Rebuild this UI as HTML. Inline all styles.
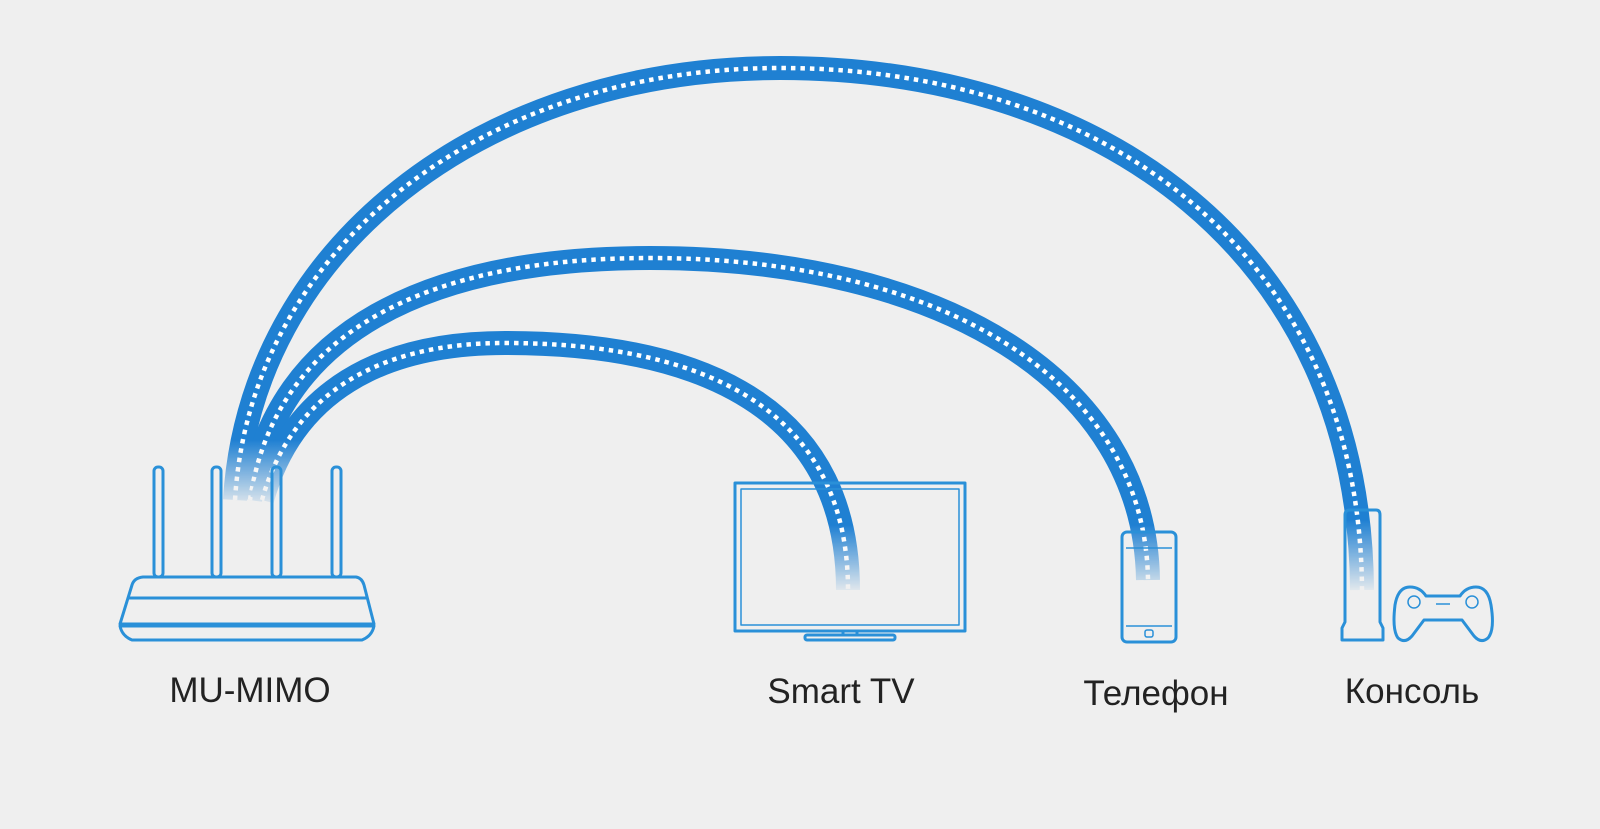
<!DOCTYPE html>
<html><head><meta charset="utf-8"><style>
html,body{margin:0;padding:0;background:#efefef;}
svg{display:block}
text{font-family:"Liberation Sans","DejaVu Sans",sans-serif;font-size:35px;fill:#222;}
</style></head><body>
<svg width="1600" height="829" viewBox="0 0 1600 829">
<defs>
<linearGradient id="fu" x1="0" y1="0" x2="0" y2="1"><stop offset="0" stop-color="#fff"/><stop offset="1" stop-color="#000"/></linearGradient>
<mask id="m" maskUnits="userSpaceOnUse" x="0" y="0" width="1600" height="829">
<rect x="0" y="0" width="1600" height="829" fill="#fff"/>
<rect x="200" y="440" width="130" height="70" fill="url(#fu)"/>
<rect x="810" y="525" width="80" height="70" fill="url(#fu)"/>
<rect x="1110" y="525" width="80" height="70" fill="url(#fu)"/>
<rect x="1335" y="520" width="60" height="75" fill="url(#fu)"/>
</mask>
</defs>
<g mask="url(#m)" fill="none">
<path d="M235,500 C250,250 480,68 780,68 C1100,68 1360,250 1362,590" stroke="#1f80d2" stroke-width="24"/>
<path d="M235,500 C250,250 480,68 780,68 C1100,68 1360,250 1362,590" stroke="#fff" stroke-width="4.5" stroke-dasharray="4.5 5"/>
<path d="M250,500 C275,330 430,258 650,258 C940,258 1145,380 1148,580" stroke="#1f80d2" stroke-width="24"/>
<path d="M250,500 C275,330 430,258 650,258 C940,258 1145,380 1148,580" stroke="#fff" stroke-width="4.5" stroke-dasharray="4.5 5"/>
<path d="M262,500 C292,392 380,343 505,343 C720,343 848,420 848,590" stroke="#1f80d2" stroke-width="24"/>
<path d="M262,500 C292,392 380,343 505,343 C720,343 848,420 848,590" stroke="#fff" stroke-width="4.5" stroke-dasharray="4.5 5"/>
</g>
<g fill="none" stroke="#2a90d8" stroke-width="3" stroke-linejoin="round">
<rect x="154" y="467" width="9" height="110" rx="4"/>
<rect x="212" y="467" width="9" height="110" rx="4"/>
<rect x="272" y="467" width="9" height="110" rx="4"/>
<rect x="332" y="467" width="9" height="110" rx="4"/>
<path d="M143,577 L356,577 Q362,578 364,585 L374,624 L120,624 L132,585 Q134,578 143,577 Z" fill="#efefef"/>
<line x1="128" y1="598" x2="367" y2="598"/>
<path d="M120,626 L374,626 Q372,636 362,640 L132,640 Q122,636 120,626 Z"/>
<rect x="735" y="483" width="230" height="148"/>
<rect x="741" y="489" width="218" height="136" stroke-width="1.5"/>
<rect x="843" y="631" width="14" height="4"/>
<rect x="805" y="635" width="90" height="5" rx="2"/>
<rect x="1122" y="532" width="54" height="110" rx="5"/>
<line x1="1126" y1="548" x2="1172" y2="548" stroke-width="1.5"/>
<line x1="1126" y1="626" x2="1172" y2="626" stroke-width="1.5"/>
<rect x="1145" y="630" width="8" height="7" rx="2" stroke-width="1.5"/>
<path d="M1342,640 L1342,628 L1345,622 L1345,515 Q1345,510 1350,510 L1376,510 Q1380,510 1380,515 L1380,622 L1383,628 L1383,640 Z"/>
<path d="M1410,587 Q1398,587 1395,605 Q1392,630 1398,638 Q1405,644 1412,636 L1424,620 L1462,620 L1474,636 Q1481,644 1488,638 Q1495,630 1491,605 Q1488,587 1476,587 Q1466,587 1460,596 L1426,596 Q1420,587 1410,587 Z"/>
<circle cx="1414" cy="602" r="6" stroke-width="1.5"/>
<circle cx="1472" cy="602" r="6" stroke-width="1.5"/>
<line x1="1436" y1="604" x2="1450" y2="604" stroke-width="1.5"/>
</g>
<text x="250" y="702" text-anchor="middle">MU-MIMO</text>
<text x="841" y="703" text-anchor="middle">Smart TV</text>
<text x="1156" y="705" text-anchor="middle">Телефон</text>
<text x="1412" y="703" text-anchor="middle">Консоль</text>
</svg>
</body></html>
